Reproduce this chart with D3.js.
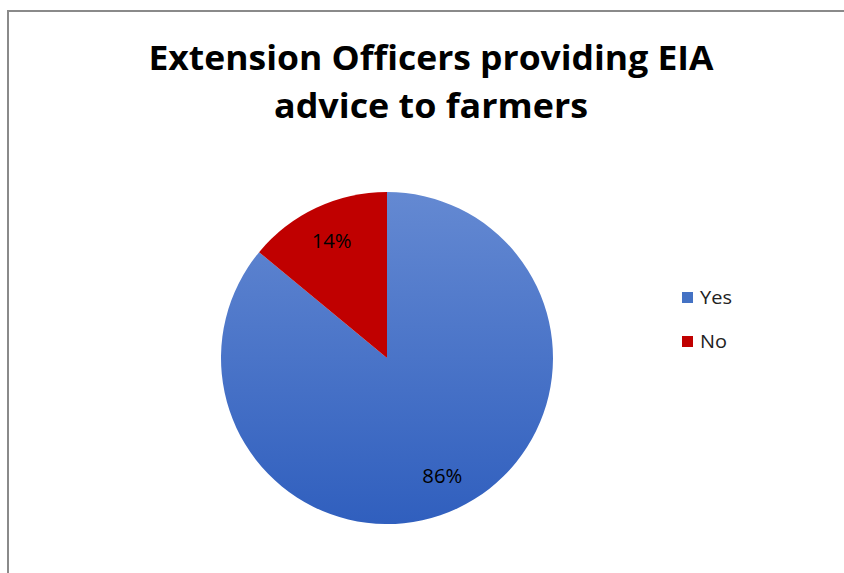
<!DOCTYPE html>
<html><head><meta charset="utf-8">
<script src="https://cdn.jsdelivr.net/npm/d3@7"></script>
<style>html,body{margin:0;padding:0;background:#fff;}</style>
</head><body>
<svg id="chart" width="844" height="573"></svg>
<script>
const categories = ["Yes", "No"];
const values = [86, 14];
const labels = ["86%", "14%"];
const titleLines = ["Extension Officers providing EIA", "advice to farmers"];

const svg = d3.select("#chart");
const defs = svg.append("defs");
const g1 = defs.append("linearGradient").attr("id","gYes").attr("x1",0).attr("y1",0).attr("x2",0).attr("y2",1);
g1.append("stop").attr("offset","0%").attr("stop-color","#6489d2");
g1.append("stop").attr("offset","100%").attr("stop-color","#305fbe");
const fills = ["url(#gYes)", "#c00000"];
const legendFills = ["#4472c4", "#c00000"];

svg.append("rect").attr("x",8).attr("y",11).attr("width",900).attr("height",700)
  .attr("fill","#fff").attr("stroke","#8a8a8a").attr("stroke-width",2);

const font = "'Open Sans', Lato, sans-serif";
const titleWidths = [565, 314];
svg.selectAll("text.title").data(titleLines).join("text").attr("class","title")
  .attr("x",431).attr("y",(d,i)=>70+i*48).attr("text-anchor","middle")
  .attr("font-family",font).attr("font-weight","bold").attr("font-size",34).attr("fill","#000")
  .attr("textLength",(d,i)=>titleWidths[i]).attr("lengthAdjust","spacingAndGlyphs")
  .text(d=>d);

const cx = 387, cy = 358, r = 166;
const pie = d3.pie().sort(null).value(d=>d)(values);
const arc = d3.arc().innerRadius(0).outerRadius(r);
const gp = svg.append("g").attr("transform",`translate(${cx},${cy})`);
gp.selectAll("path").data(pie).join("path")
  .attr("d",arc).attr("fill",(d,i)=>fills[i]);
const labelArc = d3.arc().innerRadius(130).outerRadius(130);
gp.selectAll("text").data(pie).join("text")
  .attr("transform",d=>`translate(${labelArc.centroid(d)})`)
  .attr("text-anchor","middle").attr("dy","0.36em")
  .attr("font-family",font).attr("font-size",20).attr("fill","#000")
  .attr("textLength",40).attr("lengthAdjust","spacingAndGlyphs")
  .text((d,i)=>labels[i]);

const lg = svg.append("g");
const legW = [32, 27];
categories.forEach((c,i)=>{
  lg.append("rect").attr("x",682).attr("y",292+i*44).attr("width",11).attr("height",11).attr("fill",legendFills[i]);
  lg.append("text").attr("x",700).attr("y",304+i*44).attr("font-family",font).attr("font-size",18).attr("fill","#222")
    .attr("textLength",legW[i]).attr("lengthAdjust","spacingAndGlyphs").text(c);
});
</script>
</body></html>
